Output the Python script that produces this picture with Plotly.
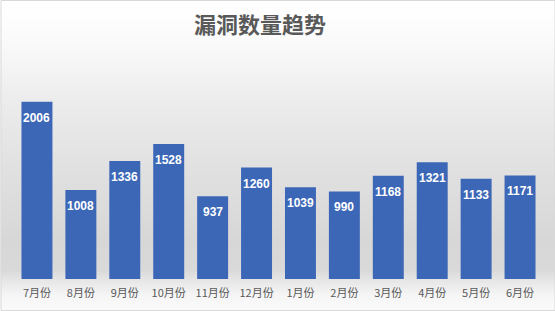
import plotly.graph_objects as go

months = ["7月份", "8月份", "9月份", "10月份", "11月份", "12月份",
          "1月份", "2月份", "3月份", "4月份", "5月份", "6月份"]
counts = [2006, 1008, 1336, 1528, 937, 1260, 1039, 990, 1168, 1321, 1133, 1171]
title_text = "漏洞数量趋势"

W, H = 555, 311
L, R, T, B = 14.5, 13, 58, 32

fig = go.Figure()
fig.add_trace(go.Bar(
    x=months, y=counts,
    marker=dict(color="#3c67b7", line=dict(width=0)),
    hoverinfo="x+y",
))

# background gradient (stripes) in pixel coordinates
stops = [(0, 255), (25, 253), (60, 246), (100, 236), (180, 223), (240, 215),
         (270, 217), (282, 232), (295, 245), (311, 250)]
def grey_at(y):
    for (y0, c0), (y1, c1) in zip(stops[:-1], stops[1:]):
        if y0 <= y <= y1:
            return c0 + (c1 - c0) * (y - y0) / (y1 - y0)
    return stops[-1][1]

shapes = []
step = 2
for ypix in range(0, H, step):
    g = int(round(grey_at(ypix + step / 2)))
    shapes.append(dict(
        type="rect", layer="below", xref="paper", yref="paper",
        xsizemode="pixel", ysizemode="pixel", xanchor=0, yanchor=0,
        x0=-L, x1=W - L,
        y0=(H - B) - ypix - step, y1=(H - B) - ypix,
        fillcolor=f"rgb({g},{g},{g})", line=dict(width=0),
    ))
# border
shapes.append(dict(
    type="rect", layer="above", xref="paper", yref="paper",
    xsizemode="pixel", ysizemode="pixel", xanchor=0, yanchor=0,
    x0=-L + 0.5, x1=W - L - 0.5, y0=-B + 0.5, y1=H - B - 0.5,
    fillcolor="rgba(0,0,0,0)", line=dict(color="#d9d9d9", width=1),
))

annotations = [
    dict(x=m, y=v, xref="x", yref="y", text=f"<b>{v}</b>", showarrow=False,
         yanchor="top", yshift=-7,
         font=dict(family="Liberation Sans, Arial", size=12, color="white"))
    for m, v in zip(months, counts)
]

fig.update_layout(
    width=W, height=H,
    margin=dict(l=L, r=R, t=T, b=B, pad=0),
    paper_bgcolor="white",
    plot_bgcolor="rgba(0,0,0,0)",
    bargap=0.295,
    showlegend=False,
    shapes=shapes,
    annotations=annotations,
    title=dict(
        text=f"<b>{title_text}</b>", x=260 / W, xref="container", xanchor="center",
        y=1 - 25 / H, yref="container", yanchor="middle",
        font=dict(family="Noto Sans CJK SC", size=22, color="#595959"),
    ),
    xaxis=dict(
        showgrid=False, zeroline=False, showline=False, ticks="",
        tickfont=dict(family="Noto Sans CJK SC", size=11, color="#595959"),
        ticklabelstandoff=6,
    ),
    yaxis=dict(range=[0, 2500], visible=False, showgrid=False, zeroline=False),
)

fig.write_html("out.html")
